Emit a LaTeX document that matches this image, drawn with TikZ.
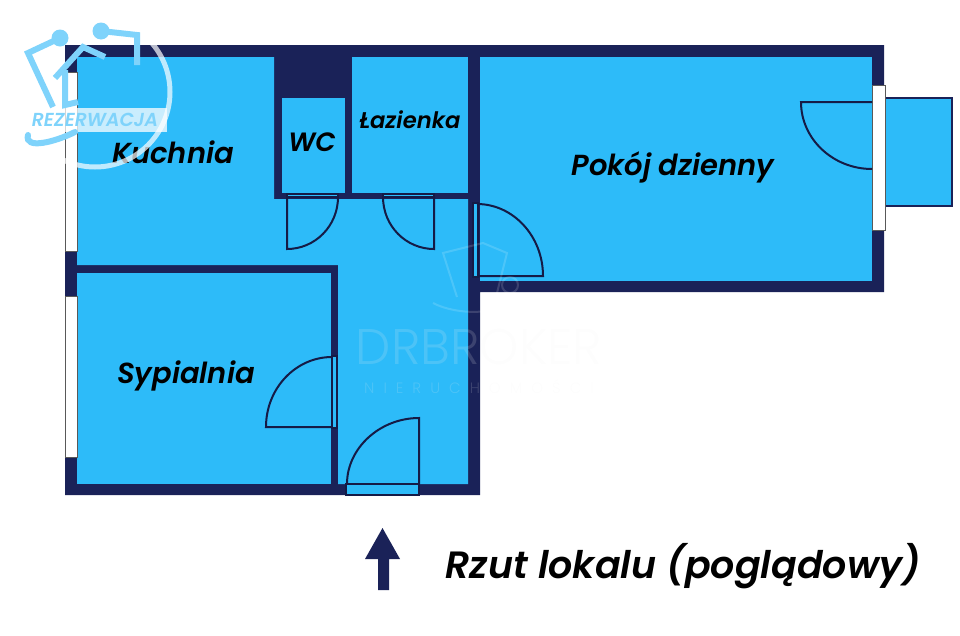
\documentclass[tikz,border=0pt]{standalone}
\usepackage{fontspec}
\setmainfont{Poppins}[BoldItalicFont={Poppins SemiBold Italic}]
\newfontfamily\lightfont{Poppins Light}
\newfontfamily\spacedfont{Poppins Light}[LetterSpace=60]
\definecolor{wallnavy}{HTML}{1A2258}
\definecolor{roomblue}{HTML}{2DBBF9}
\definecolor{logoblue}{HTML}{7FD3FB}
\tikzset{
    roomlabel/.style={black,font=\bfseries\itshape\fontsize{29}{29}\selectfont},
    doorline/.style={draw=wallnavy!80!black,line width=2pt},
    doorframe/.style={fill=roomblue,draw=wallnavy!80!black,line width=1.2pt},
    windowpane/.style={fill=white,draw=black!65,line width=.8pt},
    logoline/.style={draw=logoblue,line width=6pt},
    watermark/.style={text=black!6,opacity=.16,inner sep=0pt},
}
\begin{document}
\begin{tikzpicture}[x=1pt,y=-1pt]
    \useasboundingbox (0,0) rectangle (960,635);

    % walls
    \fill[wallnavy] (65,45) -- (884,45) -- (884,292) -- (480,292) -- (480,495) -- (65,495) -- cycle;

    % rooms
    \fill[roomblue] (77,57) -- (274,57) -- (274,199) -- (468,199) -- (468,484) -- (338,484) -- (338,265) -- (77,265) -- cycle;
    \fill[roomblue] (77,273) rectangle (331,484);
    \fill[roomblue] (282,98) rectangle (345,193);
    \fill[roomblue] (352,57) rectangle (468,193);
    \fill[roomblue] (480,57) rectangle (872,281);

    % balcony
    \filldraw[roomblue,draw=wallnavy,line width=1.2pt] (884,98) rectangle (952,206);

    % windows
    \filldraw[windowpane] (65,72) rectangle (77,251);
    \filldraw[windowpane] (65,296) rectangle (77,457);
    \filldraw[windowpane] (872,85) rectangle (885,230);

    % doors
    \filldraw[doorframe] (287,194) rectangle (338,197);
    \draw[doorline] (287,197) -- (287,249) .. controls (315,249) and (338,226) .. (338,197);

    \filldraw[doorframe] (383,194) rectangle (434,197);
    \draw[doorline] (434,197) -- (434,249) .. controls (406,249) and (383,226) .. (383,197);

    \filldraw[doorframe] (473,203) rectangle (478,277);
    \draw[doorline] (478,276) -- (543,276) .. controls (543,236) and (513,204) .. (477,204);

    \draw[doorline] (872,102) -- (801,102) .. controls (801,139) and (833,169) .. (872,169);

    \filldraw[doorframe] (332,356) rectangle (337,428);
    \draw[doorline] (332,427) -- (266,427) .. controls (266,388) and (296,357) .. (332,357);

    \filldraw[doorframe] (346,484) rectangle (419,495);
    \draw[doorline] (419,484) -- (419,418) .. controls (380,418) and (347,448) .. (347,484);

    % room names
    \node[roomlabel] (kuchnia) at (173,152) {Kuchnia};
    \node[roomlabel,font=\bfseries\itshape\fontsize{26.5}{26.5}\selectfont] (wc) at (312,142) {WC};
    \node[roomlabel,font=\bfseries\itshape\fontsize{22.7}{22.7}\selectfont] (lazienka) at (410,120) {Łazienka};
    \node[roomlabel] (pokoj) at (673,167) {Pokój dzienny};
    \node[roomlabel] (sypialnia) at (186,376) {Sypialnia};

    % entrance arrow
    \fill[wallnavy] (382.5,528) -- (400,559) -- (389,559) -- (389,590) -- (378,590) -- (378,559) -- (365,559) -- cycle;
    \node[roomlabel,font=\bfseries\itshape\fontsize{38}{38}\selectfont] (rzut) at (683,566) {Rzut lokalu (poglądowy)};

    % faint watermark
    \node[watermark,font=\lightfont\fontsize{50}{50}\selectfont] (drbroker) at (479,347) {DRBROKER};
    \node[watermark,font=\spacedfont\fontsize{15}{15}\selectfont] (nieruchomosci) at (479,387) {NIERUCHOMOŚCI};
    \draw[white,opacity=.15,line width=2pt] (497,293) -- (507,253) -- (483,243) -- (443,253) -- (457,297);
    \draw[white,opacity=.15,line width=2pt] (510,285) circle (8);
    \draw[white,opacity=.15,line width=2pt] (433,303) .. controls (450,312) and (480,315) .. (497,308);

    % logo
    \draw[white,opacity=.7,line width=5pt] (95,92) circle (75);
    \fill[white,opacity=.75] (30,108) rectangle (167,132);
    \draw[logoline] (60,38) -- (28,53) -- (53,107);
    \draw[logoline] (101,31) -- (137,35) -- (137,65);
    \draw[logoline] (55,78) -- (83,47) -- (105,57);
    \draw[logoline] (65,70) -- (65,105) -- (78,102);
    \draw[logoline,line cap=round] (28,135) .. controls (24,150) and (55,142) .. (75,132);
    \fill[logoblue] (60,38) circle (8.5);
    \fill[logoblue] (101,31) circle (8.5);
    \node[logoblue,font=\bfseries\itshape\fontsize{18.8}{18.8}\selectfont] (rezerwacja) at (95,120) {REZERWACJA};
\end{tikzpicture}
\end{document}
